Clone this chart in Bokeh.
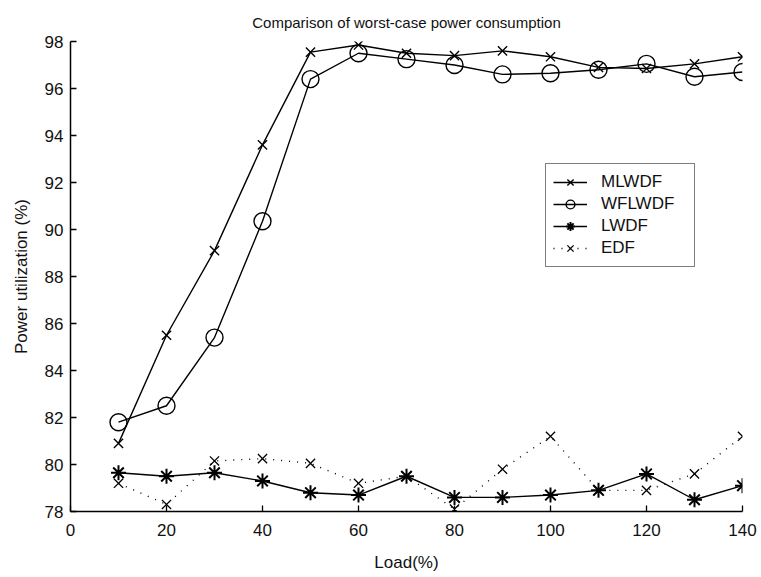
from bokeh.plotting import figure
from bokeh.models import Range1d, Legend, LegendItem, FixedTicker
from bokeh.embed import file_html
from bokeh.resources import INLINE

load = [10, 20, 30, 40, 50, 60, 70, 80, 90, 100, 110, 120, 130, 140]
mlwdf = [80.9, 85.5, 89.1, 93.6, 97.55, 97.85, 97.5, 97.4, 97.6, 97.35, 96.9, 96.85, 97.05, 97.35]
wflwdf = [81.8, 82.5, 85.4, 90.35, 96.4, 97.5, 97.25, 97.0, 96.6, 96.65, 96.8, 97.05, 96.5, 96.7]
lwdf = [79.65, 79.5, 79.65, 79.3, 78.8, 78.7, 79.5, 78.6, 78.6, 78.7, 78.9, 79.6, 78.5, 79.1]
edf = [79.2, 78.3, 80.15, 80.25, 80.05, 79.2, 79.5, 78.1, 79.8, 81.2, 78.9, 78.9, 79.6, 81.2]
x_ticks = [0, 20, 40, 60, 80, 100, 120, 140]
y_ticks = [78, 80, 82, 84, 86, 88, 90, 92, 94, 96, 98]
title_text = "Comparison of worst-case power consumption"

FONT = "Liberation Sans"

p = figure(width=761, height=577, output_backend="svg", toolbar_location=None,
           x_range=Range1d(0, 140), y_range=Range1d(78, 98), title=title_text,
           min_border_left=70, min_border_right=19, min_border_top=41, min_border_bottom=66)
p.title.align = "center"
p.title.offset = 40
p.title.standoff = 22
p.title.text_font = FONT
p.title.text_font_size = "15px"
p.title.text_font_style = "normal"
p.title.text_color = "#111111"
p.outline_line_color = None
p.xgrid.visible = False
p.ygrid.visible = False

for ax, ticks in ((p.xaxis, x_ticks), (p.yaxis, y_ticks)):
    ax.ticker = FixedTicker(ticks=ticks)
    ax.major_tick_in = 6
    ax.major_tick_out = 0
    ax.minor_tick_line_color = None
    ax.axis_line_color = "black"
    ax.axis_line_width = 1.5
    ax.major_tick_line_color = "black"
    ax.major_tick_line_width = 1.3
    ax.major_label_text_font = FONT
    ax.major_label_text_font_size = "17px"
    ax.major_label_text_color = "#111111"
    ax.axis_label_text_font = FONT
    ax.axis_label_text_font_size = "17px"
    ax.axis_label_text_font_style = "normal"
    ax.axis_label_text_color = "#111111"
p.xaxis.axis_label = "Load(%)"
p.yaxis.axis_label = "Power utilization (%)"
p.xaxis.major_label_standoff = 12
p.xaxis.axis_label_standoff = 14
p.yaxis.major_label_standoff = 7
p.yaxis.axis_label_standoff = 11

lw = 1.4
l1 = p.line(load, mlwdf, line_color="black", line_width=lw)
m1 = p.scatter(load, mlwdf, marker="x", size=13, line_color="black", line_width=1.4)
l2 = p.line(load, wflwdf, line_color="black", line_width=lw)
m2 = p.scatter(load, wflwdf, marker="circle", size=17, line_color="black", fill_color=None, line_width=1.4)
l3 = p.line(load, lwdf, line_color="black", line_width=lw)
m3 = p.scatter(load, lwdf, marker="asterisk", size=15, line_color="black", line_width=2)
l4 = p.line(load, edf, line_color="black", line_width=1.4, line_dash="1 7")
m4 = p.scatter(load, edf, marker="x", size=13, line_color="black", line_width=1.3)

legend = Legend(items=[
    LegendItem(label="MLWDF", renderers=[l1, m1]),
    LegendItem(label="WFLWDF", renderers=[l2, m2]),
    LegendItem(label="LWDF", renderers=[l3, m3]),
    LegendItem(label="EDF", renderers=[l4, m4]),
], location=(475, 244))
legend.label_text_font = FONT
legend.label_text_font_size = "17px"
legend.label_text_color = "#111111"
legend.glyph_width = 34
legend.glyph_height = 22
legend.label_height = 22
legend.label_width = 86
legend.spacing = 0
legend.label_standoff = 14
legend.padding = 7
legend.margin = 0
legend.border_line_color = "black"
legend.border_line_width = 1.3
legend.background_fill_alpha = 1
p.add_layout(legend, "center")

open("out.html", "w").write(file_html(p, INLINE))
